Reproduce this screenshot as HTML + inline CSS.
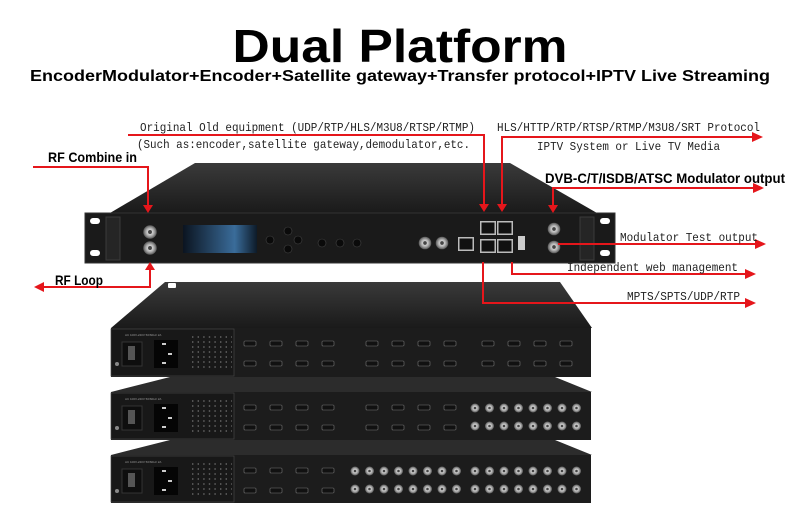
<!DOCTYPE html>
<html><head><meta charset="utf-8"><style>
html,body{margin:0;padding:0;background:#fff;}
svg{display:block}
.m{font-family:"Liberation Mono",monospace;font-size:12px;fill:#222}
.b{font-family:"Liberation Sans",sans-serif;font-weight:bold;fill:#000}
.s{font-family:"Liberation Sans",sans-serif;font-size:3px;fill:#999}
</style></head><body>
<svg width="800" height="526" viewBox="0 0 800 526" xmlns="http://www.w3.org/2000/svg">
<defs>
<linearGradient id="rb" x1="0" y1="0" x2="0" y2="1"><stop offset="0" stop-color="#3a3a3a"/><stop offset="1" stop-color="#1a1a1a"/></linearGradient>
<linearGradient id="scr" x1="0" y1="0" x2="1" y2="0"><stop offset="0" stop-color="#0b1420"/><stop offset="0.7" stop-color="#3a6c9a"/><stop offset="1" stop-color="#0d1a28"/></linearGradient>
<radialGradient id="bnc"><stop offset="0" stop-color="#fff"/><stop offset="0.6" stop-color="#aaa"/><stop offset="1" stop-color="#555"/></radialGradient>
<g id="hdmi"><rect x="-6" y="-2" width="12" height="5" rx="1" fill="#111" stroke="#777" stroke-width="0.6"/></g>
<g id="rf"><circle r="4.5" fill="url(#bnc)"/><circle r="1.3" fill="#444"/></g>
<g id="rj"><rect x="-8" y="-7" width="16" height="14" fill="#bbb"/><rect x="-6.5" y="-5.5" width="13" height="11" fill="#111"/></g>
</defs>

<text x="400" y="62" text-anchor="middle" class="b" font-size="46" textLength="335" lengthAdjust="spacingAndGlyphs">Dual Platform</text>
<text x="400" y="81" text-anchor="middle" class="b" font-size="15.5" textLength="740" lengthAdjust="spacingAndGlyphs">EncoderModulator+Encoder+Satellite gateway+Transfer protocol+IPTV Live Streaming</text>

<!-- lower stack -->
<polygon points="165,282 560,282 592,328 111,328" fill="url(#rb)"/>
<rect x="168" y="283" width="8" height="5" rx="1" fill="#fff"/>
<polygon points="170,377 555,377 592,392 111,392" fill="#2c2c2c"/>
<polygon points="170,440 555,440 592,455 111,455" fill="#2c2c2c"/>
<g id="p1">
<rect x="111" y="328" width="480" height="49" fill="#1c1c1c"/>
</g>
<rect x="111" y="392" width="480" height="48" fill="#1c1c1c"/>
<rect x="111" y="455" width="480" height="48" fill="#1c1c1c"/>
<!-- power sections -->
<g fill="none">
<rect x="111" y="329" width="123" height="47" stroke="#444" stroke-width="0.7" fill="#181818"/>
<rect x="111" y="393" width="123" height="46" stroke="#444" stroke-width="0.7" fill="#181818"/>
<rect x="111" y="456" width="123" height="46" stroke="#444" stroke-width="0.7" fill="#181818"/>
</g>
<g>
<text x="125" y="336" class="s">AC 100V-240V 50/60Hz 2A</text>
<text x="125" y="400" class="s">AC 100V-240V 50/60Hz 2A</text>
<text x="125" y="463" class="s">AC 100V-240V 50/60Hz 2A</text>
<rect x="122" y="342" width="20" height="24" fill="#0e0e0e" stroke="#333"/><rect x="128" y="346" width="7" height="14" fill="#555"/>
<rect x="154" y="340" width="24" height="28" fill="#050505"/><rect x="162" y="343" width="4" height="2" fill="#ccc"/><rect x="168" y="353" width="4" height="2" fill="#ccc"/><rect x="162" y="362" width="4" height="2" fill="#ccc"/>
<rect x="122" y="406" width="20" height="24" fill="#0e0e0e" stroke="#333"/><rect x="128" y="410" width="7" height="14" fill="#555"/>
<rect x="154" y="404" width="24" height="28" fill="#050505"/><rect x="162" y="407" width="4" height="2" fill="#ccc"/><rect x="168" y="417" width="4" height="2" fill="#ccc"/><rect x="162" y="426" width="4" height="2" fill="#ccc"/>
<rect x="122" y="469" width="20" height="24" fill="#0e0e0e" stroke="#333"/><rect x="128" y="473" width="7" height="14" fill="#555"/>
<rect x="154" y="467" width="24" height="28" fill="#050505"/><rect x="162" y="470" width="4" height="2" fill="#ccc"/><rect x="168" y="480" width="4" height="2" fill="#ccc"/><rect x="162" y="489" width="4" height="2" fill="#ccc"/>
<circle cx="117" cy="364" r="2" fill="#888"/><circle cx="117" cy="428" r="2" fill="#888"/><circle cx="117" cy="491" r="2" fill="#888"/>
</g>
<!-- vent dots -->
<g fill="#555">
<rect x="190" y="336" width="42" height="36" fill="none"/>
</g>
<g id="vents">
<path d="M192 337h40M192 342h40M192 347h40M192 352h40M192 357h40M192 362h40M192 367h40" stroke="#666" stroke-width="1.4" stroke-dasharray="1.4 4.2"/>
</g>
<use href="#vents" y="64"/>
<use href="#vents" y="127"/>

<!-- unit1 hdmi -->
<g id="hg1">
<use href="#hdmi" x="250" y="343"/><use href="#hdmi" x="276" y="343"/><use href="#hdmi" x="302" y="343"/><use href="#hdmi" x="328" y="343"/>
<use href="#hdmi" x="250" y="363"/><use href="#hdmi" x="276" y="363"/><use href="#hdmi" x="302" y="363"/><use href="#hdmi" x="328" y="363"/>
</g>
<use href="#hg1" x="122"/>
<use href="#hg1" x="238"/>
<use href="#hg1" y="64"/>
<use href="#hg1" x="122" y="64"/>
<use href="#hg1" y="127"/>
<!-- rf grids -->
<g id="rfg">
<use href="#rf" x="475" y="408"/><use href="#rf" x="489.5" y="408"/><use href="#rf" x="504" y="408"/><use href="#rf" x="518.5" y="408"/><use href="#rf" x="533" y="408"/><use href="#rf" x="547.5" y="408"/><use href="#rf" x="562" y="408"/><use href="#rf" x="576.5" y="408"/>
<use href="#rf" x="475" y="426"/><use href="#rf" x="489.5" y="426"/><use href="#rf" x="504" y="426"/><use href="#rf" x="518.5" y="426"/><use href="#rf" x="533" y="426"/><use href="#rf" x="547.5" y="426"/><use href="#rf" x="562" y="426"/><use href="#rf" x="576.5" y="426"/>
</g>
<use href="#rfg" y="63"/>
<use href="#rfg" x="-120" y="63"/>

<!-- top device rear -->
<polygon points="110,213 195,163 510,163 597,213" fill="url(#rb)"/>
<!-- front panel -->
<rect x="85" y="213" width="530" height="50" fill="#1a1a1a" stroke="#333"/>
<rect x="90" y="218" width="10" height="6" rx="3" fill="#fff"/><rect x="90" y="250" width="10" height="6" rx="3" fill="#fff"/>
<rect x="600" y="218" width="10" height="6" rx="3" fill="#fff"/><rect x="600" y="250" width="10" height="6" rx="3" fill="#fff"/>
<rect x="106" y="217" width="14" height="43" fill="#252525" stroke="#3a3a3a"/>
<rect x="580" y="217" width="14" height="43" fill="#252525" stroke="#3a3a3a"/>
<use href="#rf" x="150" y="232" transform="translate(150 232) scale(1.5) translate(-150 -232)"/>
<use href="#rf" x="150" y="248" transform="translate(150 248) scale(1.5) translate(-150 -248)"/>
<rect x="183" y="225" width="74" height="28" fill="url(#scr)"/>
<g fill="#0a0a0a" stroke="#444" stroke-width="0.6">
<circle cx="270" cy="240" r="4"/><circle cx="288" cy="231" r="4"/><circle cx="288" cy="249" r="4"/><circle cx="298" cy="240" r="4"/>
<circle cx="322" cy="243" r="4"/><circle cx="340" cy="243" r="4"/><circle cx="357" cy="243" r="4"/>
</g>
<use href="#rf" transform="translate(425 243) scale(1.4)"/>
<use href="#rf" transform="translate(442 243) scale(1.4)"/>
<use href="#rj" x="466" y="244"/>
<use href="#rj" x="488" y="228"/><use href="#rj" x="505" y="228"/>
<use href="#rj" x="488" y="246"/><use href="#rj" x="505" y="246"/>
<rect x="518" y="236" width="7" height="14" fill="#ccc"/>
<use href="#rf" transform="translate(554 229) scale(1.4)"/>
<use href="#rf" transform="translate(554 247) scale(1.4)"/>

<!-- red connectors -->
<g stroke="#e5161b" stroke-width="2" fill="none">
<path d="M33 167H148V207"/>
<path d="M150 268V287H44"/>
<path d="M128 135H484V206"/>
<path d="M502 206V137H754"/>
<path d="M553 207V188H755"/>
<path d="M558 244H757"/>
<path d="M512 262V274H747"/>
<path d="M483 262V303H747"/>
</g>
<g fill="#e5161b">
<polygon points="143,205 153,205 148,213"/>
<polygon points="145,270 155,270 150,262"/>
<polygon points="44,282 44,292 34,287"/>
<polygon points="479,204 489,204 484,212"/>
<polygon points="497,204 507,204 502,212"/>
<polygon points="548,205 558,205 553,213"/>
<polygon points="752,132 752,142 763,137"/>
<polygon points="753,183 753,193 764,188"/>
<polygon points="755,239 755,249 766,244"/>
<polygon points="745,269 745,279 756,274"/>
<polygon points="745,298 745,308 756,303"/>
</g>

<text x="48" y="162" class="b" font-size="14" textLength="89" lengthAdjust="spacingAndGlyphs">RF Combine in</text>
<text x="55" y="285" class="b" font-size="14" textLength="48" lengthAdjust="spacingAndGlyphs">RF Loop</text>
<text x="545" y="183" class="b" font-size="14" textLength="240" lengthAdjust="spacingAndGlyphs">DVB-C/T/ISDB/ATSC Modulator output</text>
<text x="140" y="131" class="m" textLength="335" lengthAdjust="spacingAndGlyphs">Original Old equipment (UDP/RTP/HLS/M3U8/RTSP/RTMP)</text>
<text x="137" y="148" class="m" textLength="333" lengthAdjust="spacingAndGlyphs">(Such as:encoder,satellite gateway,demodulator,etc.</text>
<text x="497" y="131" class="m" textLength="263" lengthAdjust="spacingAndGlyphs">HLS/HTTP/RTP/RTSP/RTMP/M3U8/SRT Protocol</text>
<text x="537" y="150" class="m" textLength="183" lengthAdjust="spacingAndGlyphs">IPTV System or Live TV Media</text>
<text x="620" y="241" class="m" textLength="138" lengthAdjust="spacingAndGlyphs">Modulator Test output</text>
<text x="567" y="271" class="m" textLength="171" lengthAdjust="spacingAndGlyphs">Independent web management</text>
<text x="627" y="300" class="m" textLength="113" lengthAdjust="spacingAndGlyphs">MPTS/SPTS/UDP/RTP</text>
</svg>
</body></html>
